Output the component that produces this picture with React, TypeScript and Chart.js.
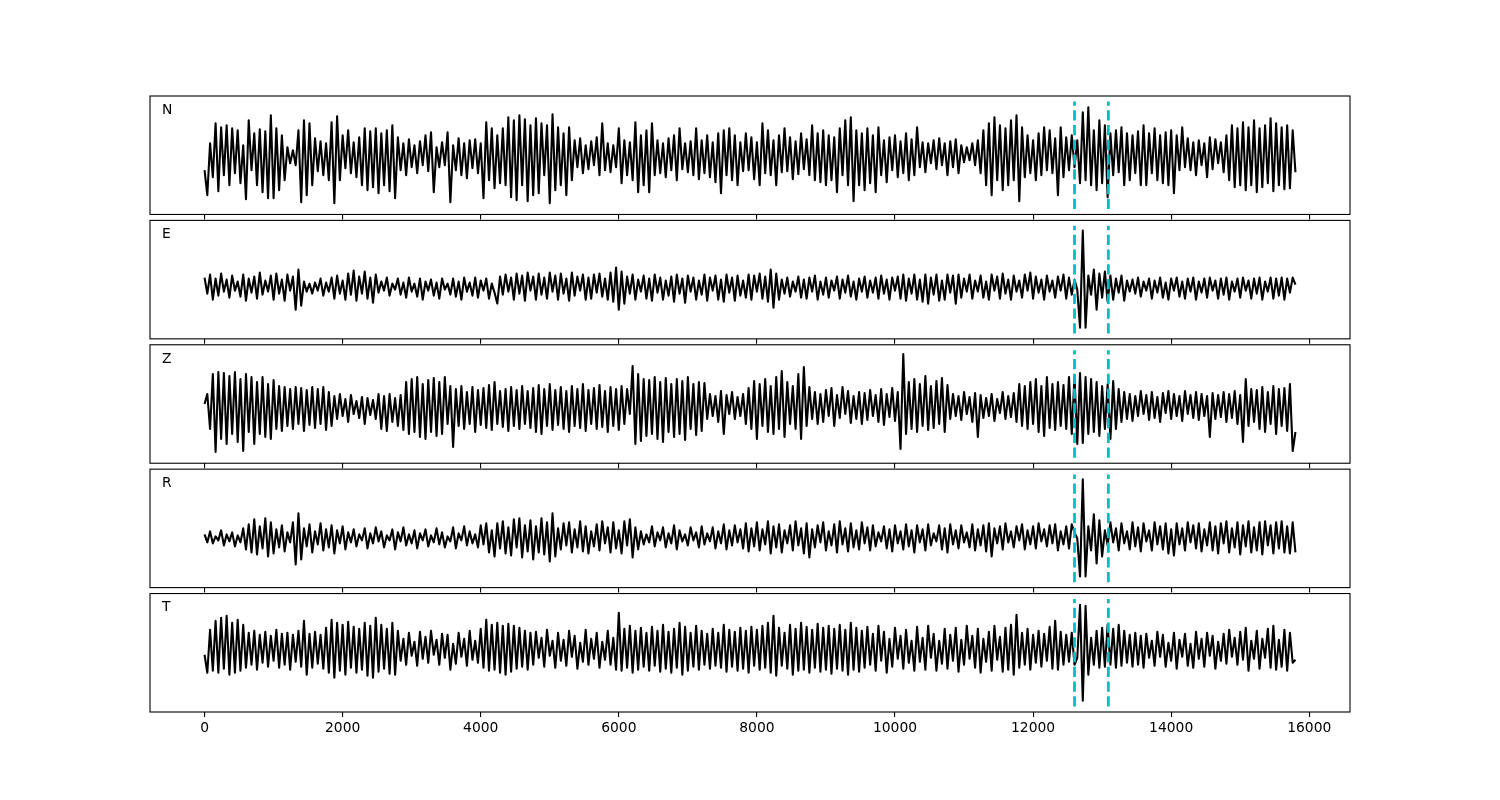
import { useEffect, useRef } from "react";
import { Chart, registerables } from "chart.js";

Chart.register(...registerables);

// ---------- data ----------
const SAMPLE_STEP = 40; // x units between samples
const PICKS = [12600, 13090]; // vertical dashed markers
const PANEL_LABELS = ["N", "E", "Z", "R", "T"];
const X_TICKS = [0, 2000, 4000, 6000, 8000, 10000, 12000, 14000, 16000];
const X_MIN = -790;
const X_MAX = 16590;
const PICK_HALF = 53.85; // extent of the marker lines (amplitude units)
const Y_HALF = 59.23; // axis half range (amplitude units)

const N_TRACE = [
  -15, -40, 12, -22, 32, -36, 28, -20, 30, -30,
  27, -18, 25, -28, 10, -44, 35, -15, 22, -30,
  26, -37, 24, -43, 40, -43, 27, -35, 20, -25,
  8, -8, 5, -10, 25, -47, 35, -40, 32, -30,
  17, -16, 14, -20, 12, -25, 33, -48, 39, -25,
  20, -13, 25, -18, 13, -22, 18, -30, 27, -35,
  24, -32, 27, -38, 22, -30, 25, -36, 30, -43,
  18, -15, 12, -20, 16, -12, 10, -18, 14, -10,
  20, -16, 23, -37, 8, -12, 13, -10, 23, -47,
  10, -15, 17, -20, 12, -23, 15, -13, 16, -18,
  12, -43, 33, -25, 27, -33, 20, -28, 27, -30,
  38, -42, 35, -45, 40, -30, 36, -46, 30, -40,
  37, -38, 32, -20, 30, -48, 41, -35, 28, -30,
  22, -40, 28, -25, 15, -12, 17, -18, 10, -14,
  14, -10, 18, -20, 32, -15, 12, -17, 10, -12,
  27, -28, 15, -20, 13, -25, 33, -37, 20, -30,
  25, -37, 32, -20, 15, -18, 12, -22, 17, -15,
  20, -25, 27, -14, 12, -17, 14, -20, 27, -24,
  15, -18, 20, -22, 13, -27, 22, -38, 25, -20,
  27, -25, 20, -30, 13, -16, 22, -15, 18, -24,
  13, -30, 32, -18, 25, -20, 15, -30, 20, -17,
  27, -16, 18, -24, 14, -19, 22, -14, 16, -20,
  30, -25, 22, -27, 25, -30, 20, -25, 18, -37,
  27, -20, 35, -30, 38, -46, 25, -30, 22, -35,
  27, -28, 20, -37, 28, -20, 15, -27, 18, -15,
  20, -22, 14, -18, 22, -25, 16, -20, 28, -12,
  13, -17, 12, -8, 15, -14, 17, -10, 12, -20,
  14, -12, 16, -18, 10, -7, 8, -5, 12, -10,
  15, -18, 25, -30, 32, -40, 38, -25, 30, -35,
  27, -30, 35, -25, 40, -46, 28, -22, 20, -18,
  15, -25, 22, -20, 28, -15, 25, -18, 17, -40,
  28, -22, 18, -15, 20, -12, 15, -28, 43, -25,
  48, -30, 25, -35, 35, -28, 30, -42, 22, -20,
  25, -17, 28, -30, 22, -25, 20, -18, 24, -30,
  30, -30, 22, -18, 27, -25, 20, -28, 23, -30,
  25, -38, 20, -15, 28, -12, 17, -15, 13, -20,
  15, -10, 12, -22, 18, -14, 16, -8, 13, -17,
  20, -25, 30, -32, 27, -30, 33, -35, 28, -30,
  35, -37, 27, -32, 30, -28, 37, -36, 32, -30,
  28, -34, 30, -33, 25, -17,
];

const E_TRACE = [
  2, -14, 5, -20, 1, -16, 6, -12, 0, -18,
  4, -11, -2, -17, 5, -21, 1, -13, 3, -19,
  7, -15, -1, -12, 4, -20, 6, -14, 0, -21,
  5, -11, 3, -30, 10, -26, -2, -12, -4, -14,
  -3, -11, 1, -16, -3, -12, 2, -19, 4, -14,
  -1, -20, 6, -15, 9, -21, 3, -14, 8, -19,
  2, -23, 5, -13, -2, -11, 2, -16, -4, -10,
  1, -15, -3, -18, 2, -12, -4, -17, 1, -20,
  -2, -11, 0, -16, -3, -19, 1, -10, -4, -15,
  1, -17, -2, -20, 2, -12, -3, -16, 2, -18,
  -1, -11, 1, -19, -4, -13, -24, 3, -15, 5,
  -12, 2, -20, 6, -14, 4, -21, 7, -11, 3,
  -20, 6, -15, 2, -19, 7, -12, 4, -20, 6,
  -14, 1, -21, 7, -16, 3, -11, 5, -20, 2,
  -19, 5, -13, 6, -17, 1, -20, 7, -22, 12,
  -30, 8, -24, 3, -14, 5, -20, 0, -12, 4,
  -19, 1, -21, 5, -13, 2, -20, -1, -16, 3,
  -22, 5, -14, 1, -23, 4, -12, 2, -20, -1,
  -15, 5, -21, 2, -11, 4, -20, 0, -22, 5,
  -13, 2, -21, 4, -16, -1, -18, 5, -20, 4,
  -12, 6, -19, 3, -22, 10, -28, 6, -20, 0,
  -14, 2, -17, -2, -12, 3, -18, 0, -19, 2,
  -12, 4, -20, -2, -15, 2, -18, -1, -11, 3,
  -19, 0, -13, 4, -17, -2, -20, 1, -12, 3,
  -18, -1, -13, 2, -19, 4, -14, 0, -20, 2,
  -11, 3, -19, 5, -21, 1, -14, 5, -20, 0,
  -22, 5, -24, 2, -15, 5, -21, -1, -20, 5,
  -13, 4, -24, 5, -18, 1, -12, 5, -19, -1,
  -12, 4, -18, -2, -20, 5, -11, 3, -19, 6,
  -14, 0, -20, 4, -12, -1, -18, 5, -11, 7,
  -19, 3, -13, 0, -20, 4, -12, -1, -18, 3,
  -11, 5, -19, 2, -15, 0, -10, -48, 49, -48,
  4, -15, 10, -30, 6, -18, 8, -22, 4, -20,
  1, -13, 4, -21, -1, -12, 0, -14, 2, -17,
  -2, -11, 1, -19, -1, -13, 2, -18, -3, -20,
  1, -11, 2, -17, -2, -19, 1, -12, 2, -20,
  -2, -13, 1, -18, 2, -11, -1, -19, 1, -15,
  2, -20, -2, -12, 1, -18, 2, -11, -1, -19,
  1, -14, 2, -20, -2, -12, 2, -19, 1, -16,
  2, -20, 1, -13, 2, -5,
];

const Z_TRACE = [
  0, 10, -25, 30, -48, 32, -35, 31, -40, 28,
  -30, 32, -38, 25, -47, 30, -28, 27, -40, 22,
  -30, 27, -33, 20, -35, 24, -25, 18, -27, 17,
  -22, 15, -25, 17, -20, 16, -27, 14, -21, 17,
  -24, 15, -20, 17, -26, 12, -22, 8, -15, 10,
  -12, 5, -18, 9, -10, 3, -14, 7, -20, 6,
  -11, 4, -15, 10, -25, 8, -27, 10, -18, 6,
  -22, 9, -26, 22, -30, 25, -28, 27, -33, 20,
  -35, 24, -28, 26, -32, 22, -30, 27, -20, 18,
  -43, 15, -22, 18, -25, 12, -20, 17, -28, 14,
  -21, 16, -24, 19, -26, 22, -20, 13, -23, 15,
  -27, 17, -22, 14, -25, 18, -20, 13, -24, 16,
  -28, 19, -30, 15, -22, 20, -26, 14, -21, 17,
  -25, 13, -28, 18, -22, 15, -24, 20, -27, 14,
  -20, 16, -25, 19, -23, 13, -28, 17, -22, 15,
  -26, 18, -20, 15, -10, 38, -40, 30, -37, 25,
  -32, 24, -30, 27, -35, 22, -38, 26, -28, 20,
  -33, 25, -30, 23, -36, 27, -25, 20, -31, 22,
  -27, 21, -15, 10, -12, 8, -18, 13, -30, 9,
  -10, 12, -15, 7, -12, 10, -20, 16, -25, 23,
  -35, 20, -22, 25, -28, 18, -30, 27, -25, 33,
  -33, 22, -20, 18, -25, 30, -35, 37, -22, 17,
  -15, 12, -20, 10, -18, 14, -12, 16, -22, 9,
  -14, 17, -10, 13, -19, 8, -15, 12, -20, 11,
  -16, 14, -12, 9, -18, 15, -21, 10, -13, 16,
  -17, 12, -45, 50, -30, 22, -25, 25, -28, 20,
  -22, 28, -26, 18, -24, 23, -20, 26, -28, 19,
  -15, 10, -12, 8, -16, 12, -10, 7, -18, 11,
  -33, 9, -14, 6, -12, 10, -17, 5, -9, 12,
  -15, 8, -13, 11, -18, 20, -22, 18, -25, 22,
  -20, 25, -28, 18, -32, 27, -24, 20, -26, 22,
  -22, 19, -25, 27, -30, 28, -40, 31, -39, 27,
  -30, 25, -28, 22, -32, 18, -25, 20, -35, 23,
  -25, 15, -18, 12, -15, 10, -17, 8, -12, 13,
  -10, 9, -16, 12, -14, 7, -18, 11, -9, 13,
  -15, 10, -12, 8, -17, 13, -10, 9, -14, 12,
  -16, 10, -12, 8, -33, 11, -15, 9, -13, 12,
  -18, 10, -14, 13, -20, 9, -38, 25, -22, 15,
  -18, 14, -25, 17, -28, 12, -20, 18, -30, 15,
  -22, 16, -27, 20, -47, -28,
];

const R_TRACE = [
  -6, -14, -3, -15, -8, -12, -2, -17, -6, -13,
  -4, -18, -7, -14, 0, -21, 4, -24, 9, -26,
  2, -20, 10, -28, 6, -25, -1, -19, 3, -23,
  -4, -14, 6, -36, 15, -31, 0, -18, 4, -24,
  -3, -16, 5, -22, -1, -19, 3, -25, -2, -15,
  2, -21, -4, -14, -1, -18, -6, -12, 0, -20,
  -5, -15, 1, -13, -3, -19, -7, -12, -1, -21,
  -4, -13, 1, -17, -6, -15, -2, -20, -5, -12,
  -1, -18, -7, -14, 0, -16, -4, -19, -8, -13,
  1, -20, -5, -12, 2, -17, -3, -15, -6, -19,
  3, -16, 5, -24, -2, -28, 5, -20, 7, -25,
  1, -27, 9, -19, 10, -29, 3, -23, 8, -31,
  2, -24, 10, -26, 6, -33, 15, -28, 0, -21,
  5, -17, 6, -24, -1, -19, 7, -23, 2, -25,
  -3, -18, 4, -22, 7, -15, 1, -24, 6, -20,
  -2, -25, 7, -17, 9, -29, 1, -21, -3, -16,
  -6, -14, 2, -18, -4, -12, 1, -19, -5, -15,
  3, -21, -2, -13, -6, -17, 1, -12, -4, -19,
  2, -16, -5, -13, 1, -20, -3, -15, 4, -21,
  -2, -17, 3, -14, -1, -20, 5, -23, 0, -18,
  6, -22, -1, -16, 7, -25, 2, -19, 4, -24,
  -2, -15, 3, -22, 7, -17, 0, -25, 5, -29,
  -1, -19, 3, -14, 6, -22, -3, -17, 4, -24,
  7, -16, 0, -23, 5, -19, -2, -21, 6, -15,
  1, -22, 3, -18, -4, -13, 2, -20, -1, -23,
  3, -15, -3, -21, 4, -18, -2, -24, 3, -14,
  -1, -22, 4, -17, -5, -13, 3, -21, 0, -24,
  4, -16, -2, -20, 3, -14, -4, -19, 4, -22,
  -1, -17, 3, -23, 5, -28, 0, -15, 2, -21,
  5, -14, -3, -19, 2, -12, 4, -21, -2, -16,
  2, -20, 5, -13, -1, -18, 3, -15, 4, -22,
  -3, -16, 2, -20, 4, -4, -10, -48, 49, -48,
  2, -22, 14, -35, 8, -28, -2, -17, 6, -14,
  0, -22, 5, -15, -3, -21, 6, -18, 1, -23,
  5, -13, -2, -22, 6, -16, 2, -21, 5, -25,
  -1, -27, 5, -16, 0, -22, 6, -14, 3, -20,
  5, -23, -1, -17, 6, -22, 2, -25, 5, -15,
  7, -24, 0, -19, 6, -26, 3, -18, 7, -24,
  1, -22, 6, -26, 7, -17, 3, -25, 6, -20,
  7, -24, 2, -25, 6, -24,
];

const T_TRACE = [
  -2, -20, 23, -18, 32, -20, 35, -16, 37, -22,
  30, -20, 33, -18, 28, -15, 20, -12, 22, -17,
  18, -10, 21, -14, 17, -8, 23, -15, 19, -12,
  20, -17, 18, -9, 22, -14, 32, -22, 19, -15,
  21, -11, 18, -16, 25, -20, 33, -25, 30, -18,
  28, -22, 31, -15, 26, -20, 24, -17, 30, -23,
  27, -25, 35, -19, 28, -16, 24, -21, 30, -22,
  22, -8, 14, -12, 20, -3, 11, -13, 21, -6,
  16, -10, 22, -2, 13, -12, 19, -5, 18, -17,
  9, -11, 20, -4, 14, -13, 22, -7, 12, -10,
  24, -15, 33, -18, 28, -17, 30, -20, 27, -22,
  29, -19, 27, -16, 25, -14, 22, -17, 20, -12,
  21, -5, 15, -14, 23, -3, 12, -15, 20, -8,
  13, -13, 22, -4, 17, -16, 10, -9, 23, -12,
  14, -6, 20, -15, 11, -7, 22, -12, 15, -17,
  40, -18, 24, -15, 27, -20, 22, -17, 25, -14,
  20, -18, 26, -13, 22, -19, 28, -16, 21, -20,
  24, -15, 30, -22, 26, -18, 20, -14, 27, -17,
  22, -12, 19, -16, 24, -13, 20, -15, 28, -19,
  23, -14, 21, -18, 25, -16, 22, -20, 26, -13,
  23, -17, 27, -15, 30, -20, 37, -23, 25, -13,
  20, -16, 28, -22, 24, -18, 30, -17, 26, -20,
  23, -15, 29, -19, 25, -17, 27, -21, 24, -16,
  28, -18, 23, -22, 30, -17, 25, -19, 22, -15,
  26, -12, 19, -18, 27, -8, 21, -20, 14, -14,
  25, -6, 17, -16, 23, -10, 12, -18, 26, -9,
  15, -17, 27, -5, 19, -18, 12, -11, 24, -16,
  18, -8, 25, -19, 13, -12, 27, -6, 17, -15,
  24, -20, 14, -9, 21, -18, 27, -7, 16, -19,
  25, -17, 28, -22, 38, -15, 20, -12, 24, -17,
  18, -10, 22, -14, 19, -8, 26, -16, 32, -17,
  21, -12, 18, -9, 20, -12, -5, 48, -48, 47,
  -22, 15, -12, 22, -15, 25, -14, 28, -12, 24,
  -15, 28, -13, 22, -10, 18, -14, 20, -12, 17,
  -15, 19, -5, 12, -13, 21, -4, 18, -14, 10,
  -8, 20, -16, 13, -4, 19, -13, 9, -15, 21,
  -6, 14, -14, 20, -3, 17, -16, 11, -8, 19,
  -11, 23, -4, 15, -12, 21, -7, 25, -18, 12,
  -6, 22, -16, 14, -5, 24, -15, 27, -17, 13,
  -14, 23, -18, 20, -10, -7,
];

const TRACES = [N_TRACE, E_TRACE, Z_TRACE, R_TRACE, T_TRACE];

// ---------- layout (figure pixels) ----------
const FIG_W = 1500;
const FIG_H = 800;
const AX_LEFT = 150;
const AX_RIGHT = 1350;
const GRID_TOP = 96;
const GRID_BOTTOM = 712;
const HSPACE = 0.05;
const PANEL_H = (GRID_BOTTOM - GRID_TOP) / (5 + 4 * HSPACE);
const GAP = PANEL_H * HSPACE;
const AXIS_BOX_H = 40;
const FONT = '"DejaVu Sans", "Liberation Sans", sans-serif';
const FONT_PX = 13.89;

function Panel({ index }: { index: number }) {
  const ref = useRef<HTMLCanvasElement | null>(null);

  useEffect(() => {
    const canvas = ref.current;
    if (!canvas) return;
    const trace = TRACES[index];
    const label = PANEL_LABELS[index];
    const isBottom = index === TRACES.length - 1;
    const top = GRID_TOP + index * (PANEL_H + GAP);
    const bottom = top + PANEL_H;

    const framePlugin = {
      id: "frameAndLabel",
      afterDatasetsDraw(chart: any) {
        const { ctx, chartArea: a } = chart;
        ctx.save();
        ctx.strokeStyle = "#000";
        ctx.lineWidth = 1.1;
        ctx.strokeRect(a.left, a.top, a.right - a.left, a.bottom - a.top);
        ctx.fillStyle = "#000";
        ctx.font = `${FONT_PX}px ${FONT}`;
        ctx.textBaseline = "alphabetic";
        ctx.textAlign = "left";
        ctx.fillText(label, a.left + 0.01 * (a.right - a.left), a.top + 0.15 * (a.bottom - a.top));
        ctx.restore();
      },
    };

    const datasets: any[] = [
      {
        data: trace.map((v, i) => ({ x: i * SAMPLE_STEP, y: v })),
        borderColor: "#000000",
        borderWidth: 2.08,
        pointRadius: 0,
        tension: 0,
        fill: false,
        borderJoinStyle: "round",
        borderCapStyle: "butt",
        order: 2,
      },
      ...PICKS.map((p) => ({
        data: [
          { x: p, y: -PICK_HALF },
          { x: p, y: PICK_HALF },
        ],
        borderColor: "#00BFBF",
        borderWidth: 2.78,
        borderDash: [10.3, 4.45],
        borderCapStyle: "butt",
        pointRadius: 0,
        fill: false,
        order: 1,
      })),
    ];

    const chart = new Chart(canvas, {
      type: "line",
      data: { datasets },
      plugins: [framePlugin],
      options: {
        responsive: false,
        animation: false,
        devicePixelRatio: 1,
        events: [],
        layout: {
          padding: {
            left: AX_LEFT,
            right: FIG_W - AX_RIGHT,
            top: top,
            bottom: FIG_H - bottom - AXIS_BOX_H,
          },
        },
        plugins: {
          legend: { display: false },
          title: { display: false },
          tooltip: { enabled: false },
        },
        scales: {
          x: {
            type: "linear",
            min: X_MIN,
            max: X_MAX,
            afterBuildTicks: (scale: any) => {
              scale.ticks = X_TICKS.map((v) => ({ value: v }));
            },
            afterFit: (scale: any) => {
              scale.height = AXIS_BOX_H;
            },
            border: { display: false },
            grid: {
              display: true,
              drawOnChartArea: false,
              drawTicks: true,
              tickLength: 5,
              color: "#000",
              lineWidth: 1.1,
            },
            ticks: {
              display: isBottom,
              autoSkip: false,
              maxRotation: 0,
              padding: 3.5,
              color: "#000",
              font: { family: FONT, size: FONT_PX },
              callback: (v: any) => String(v),
            },
          },
          y: {
            type: "linear",
            display: false,
            min: -Y_HALF,
            max: Y_HALF,
          },
        },
      },
    });

    return () => chart.destroy();
  }, [index]);

  return (
    <canvas
      ref={ref}
      width={FIG_W}
      height={FIG_H}
      style={{ position: "absolute", left: 0, top: 0, width: FIG_W, height: FIG_H, display: "block" }}
    />
  );
}

export default function App() {
  return (
    <div
      style={{
        position: "absolute",
        left: 0,
        top: 0,
        width: FIG_W,
        height: FIG_H,
        background: "#ffffff",
        overflow: "hidden",
      }}
    >
      {TRACES.map((_, k) => (
        <Panel key={PANEL_LABELS[k]} index={k} />
      ))}
    </div>
  );
}
